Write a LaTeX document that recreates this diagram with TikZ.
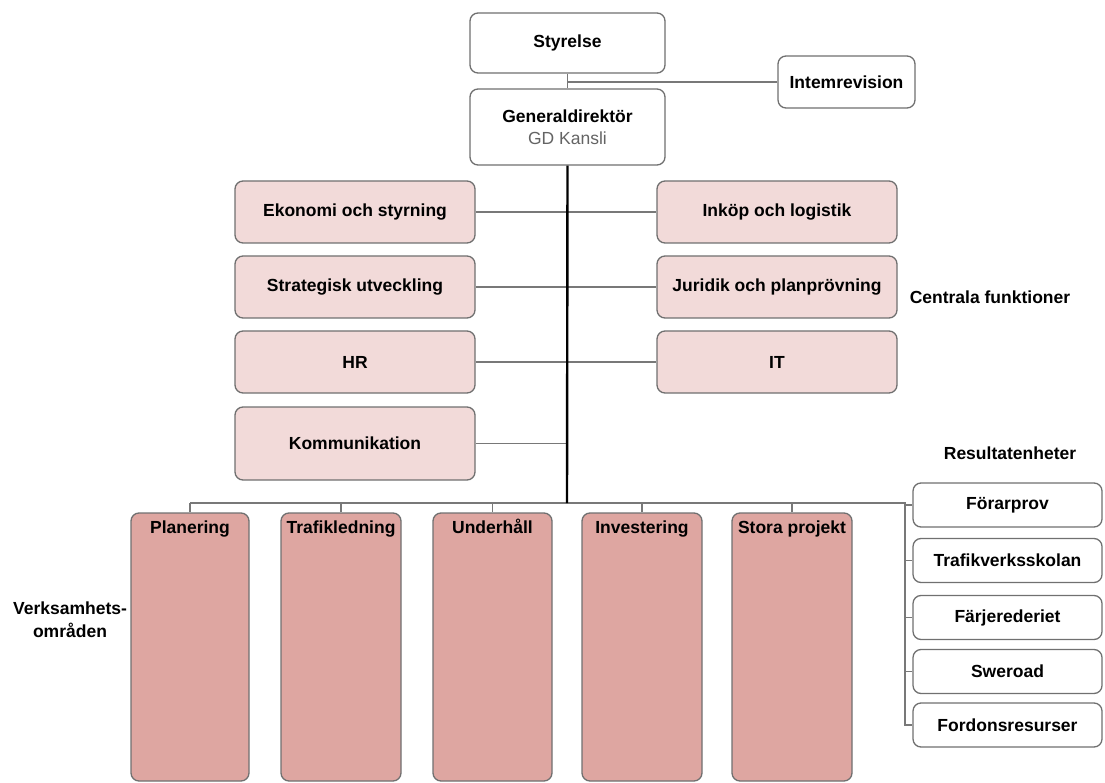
\documentclass[tikz,border=0pt]{standalone}
\usepackage{fontspec}
\setmainfont{Liberation Sans}
\definecolor{pinkL}{RGB}{242,218,217}
\definecolor{pinkD}{RGB}{222,166,161}
\definecolor{bord}{RGB}{112,112,112}
\definecolor{conn}{RGB}{120,120,120}
\definecolor{subgray}{RGB}{100,100,100}
\begin{document}
\begin{tikzpicture}[x=1pt,y=-1pt,
  font=\fontsize{17.5}{21}\selectfont\bfseries,
  box/.style={draw=bord, line width=1.3pt, rounded corners=8pt, inner sep=0pt, align=center},
  wbox/.style={box, fill=white},
  cbox/.style={box, fill=pinkL, minimum width=240pt, minimum height=62pt},
  vbox/.style={box, fill=pinkD, minimum height=268pt},
  rbox/.style={box, fill=white, minimum width=189pt, minimum height=44pt},
  conn/.style={draw=conn, line width=1.5pt},
  trunk/.style={draw=black, line width=2.4pt},
  lbl/.style={inner sep=0pt, align=center},
  ttl/.style={lbl, text height=13pt, text depth=4pt, yshift=-17pt}
]
\useasboundingbox (0,0) rectangle (1105,783);

% top
\node[wbox, minimum width=195pt, minimum height=60pt] (sty) at (567.5,43) {Styrelse};
\node[wbox, minimum width=137pt, minimum height=52pt] (int) at (846.5,82) {Intemrevision};
\node[wbox, minimum width=195pt, minimum height=76pt] (gd) at (567.5,127) {Generaldirektör\\[1pt]{\mdseries\color{subgray}GD Kansli}};

% central functions
\node[cbox] (eko) at (355,212) {Ekonomi och styrning};
\node[cbox] (str) at (355,287) {Strategisk utveckling};
\node[cbox] (hr)  at (355,362) {HR};
\node[cbox, minimum height=73pt] (kom) at (355,443.5) {Kommunikation};
\node[cbox] (ink) at (777,212) {Inköp och logistik};
\node[cbox] (jur) at (777,287) {Juridik och planprövning};
\node[cbox] (it)  at (777,362) {IT};
\node[lbl] (cf) at (990,297) {Centrala funktioner};

% bus coordinates
\coordinate (bus) at (567,503);
\coordinate (bj) at (905,503);

% verksamhetsområden
\node[vbox, minimum width=118pt] (pla) at (190,647) {};
\node[vbox, minimum width=120pt] (tra) at (341,647) {};
\node[vbox, minimum width=119pt] (und) at (492.5,647) {};
\node[vbox, minimum width=120pt] (inv) at (642,647) {};
\node[vbox, minimum width=120pt] (sto) at (792,647) {};
\node[ttl] (plaT) at (pla.north) {Planering};
\node[ttl] (traT) at (tra.north) {Trafikledning};
\node[ttl] (undT) at (und.north) {Underhåll};
\node[ttl] (invT) at (inv.north) {Investering};
\node[ttl] (stoT) at (sto.north) {Stora projekt};
\node[lbl, font=\fontsize{17.5}{23}\selectfont\bfseries] (vo) at (70,620) {Verksamhets-\\områden};

% resultatenheter
\node[lbl] (re) at (1010,453) {Resultatenheter};
\node[rbox] (for) at (1007.5,505) {Förarprov};
\node[rbox] (tvs) at (1007.5,560.5) {Trafikverksskolan};
\node[rbox] (far) at (1007.5,617.5) {Färjerederiet};
\node[rbox] (swe) at (1007.5,671.5) {Sweroad};
\node[rbox] (fdr) at (1007.5,725) {Fordonsresurser};

% connectors
\draw[conn] (sty.south) -- (gd.north);
\draw[conn] (int.west) -- (int.west -| sty.south);
\draw[conn] (eko.east) -- (ink.west);
\draw[conn] (str.east) -- (jur.west);
\draw[conn] (hr.east) -- (it.west);
\draw[conn] (kom.east) -- (kom.east -| bus);
\draw[conn] (pla.north |- bus) -- (bj) -- (bj |- fdr.west) -- (fdr.west);
\foreach \n in {pla,tra,und,inv,sto} \draw[conn] (\n.north) -- (\n.north |- bus);
\foreach \n in {for,tvs,far,swe} \draw[conn] (\n.west) -- (\n.west -| bj);
\draw[trunk] (gd.south) -- (bus);
\end{tikzpicture}
\end{document}
